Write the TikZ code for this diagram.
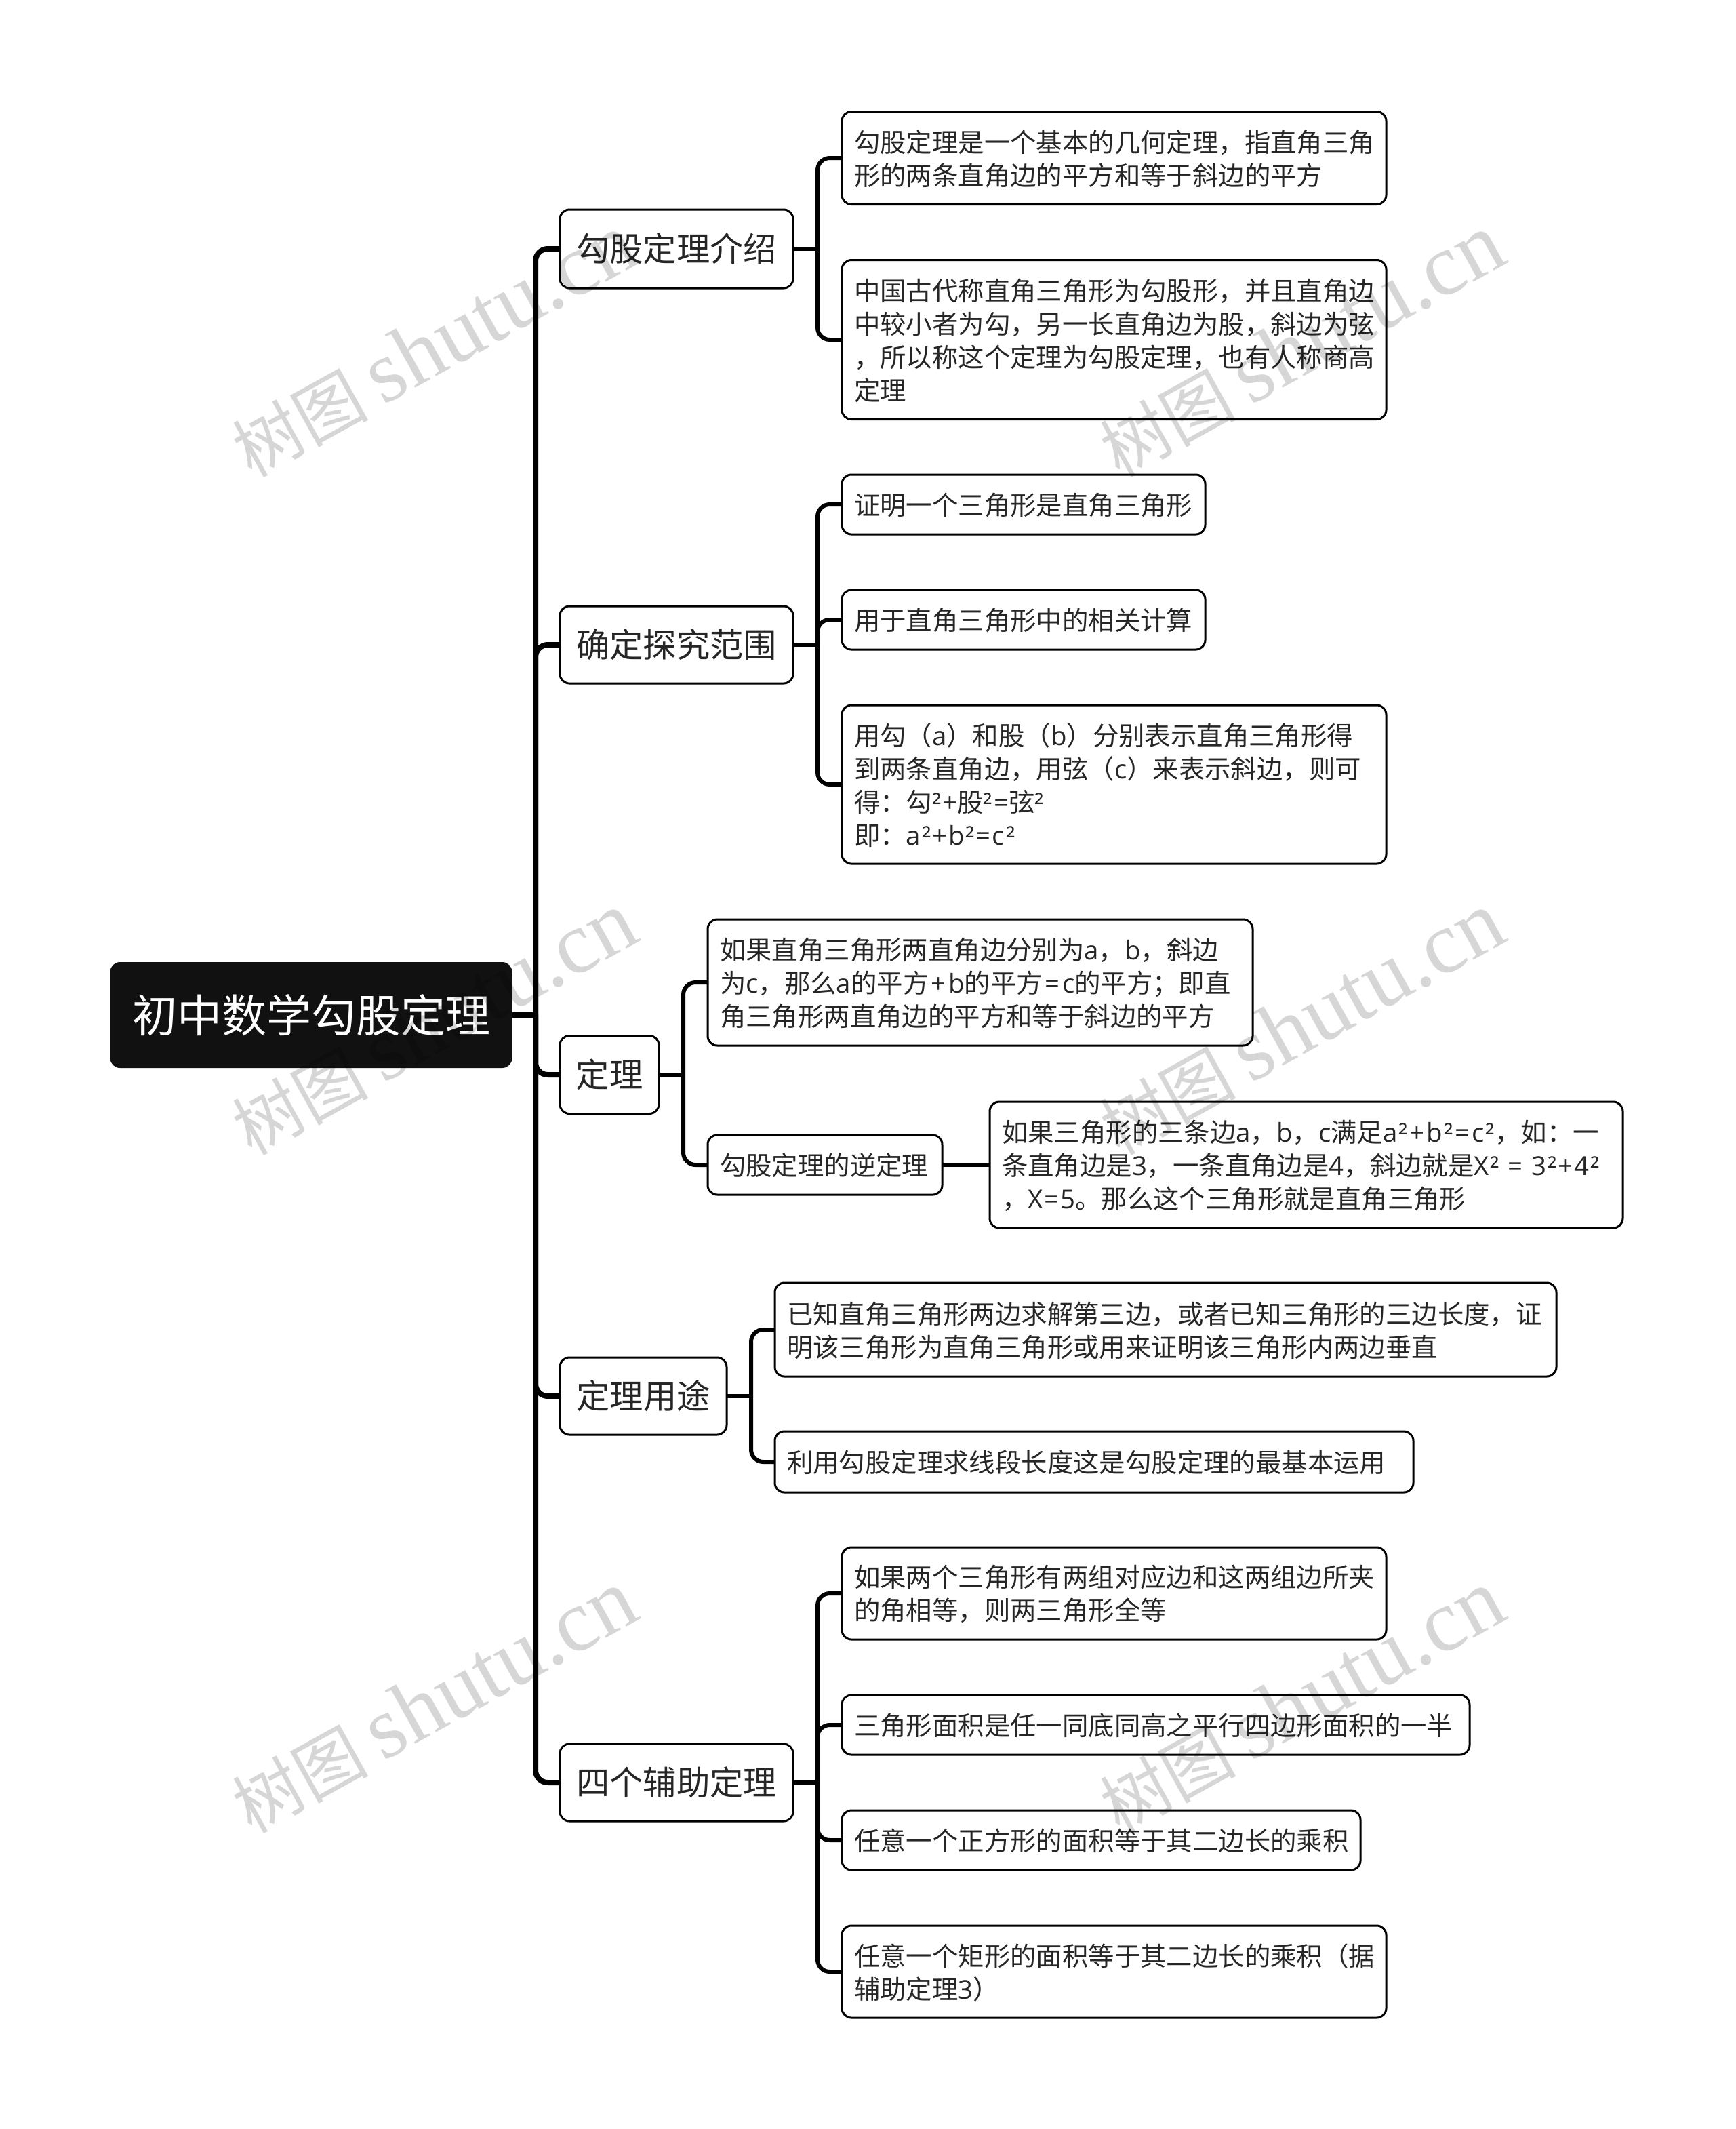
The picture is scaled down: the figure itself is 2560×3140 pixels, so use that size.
\documentclass[tikz,border=0pt]{standalone}
\usepackage{fontspec}
\setmainfont{Noto Sans CJK SC}
\newfontfamily\latfont[LetterSpace=5]{Open Sans}
\newfontfamily\stampfont{Liberation Serif}
\newcommand{\lat}[1]{{\latfont #1}}
\newcommand{\leafend}{\par\vspace{-2pt}}
\definecolor{rootblack}{HTML}{111111}
\definecolor{inktext}{HTML}{262626}

\begin{document}
\begin{tikzpicture}[x=1pt,y=-1pt,
	rootbox/.style={draw=rootblack,fill=rootblack,text=white,rounded corners=14pt,line width=1pt,
		minimum width=592pt,minimum height=155pt,inner sep=0pt,outer sep=0pt,anchor=west,
		font=\fontsize{66}{80}\selectfont},
	branchbox/.style 2 args={draw=black,rounded corners=14pt,line width=3pt,
		minimum width=#1pt,minimum height=#2pt,inner sep=0pt,outer sep=0pt,anchor=west,
		text=inktext,font=\fontsize{49.3}{60}\selectfont},
	leafbox/.style 2 args={draw=black,rounded corners=14pt,line width=3pt,align=left,
		text width=\dimexpr#1pt-36pt\relax,minimum height=#2pt,inner xsep=18pt,inner ysep=0pt,outer sep=0pt,anchor=west,
		text=inktext,font=\fontsize{38.4}{49}\selectfont,execute at end node=\leafend},
	trunk/.style={draw=black,line width=8pt,rounded corners=18pt},
	twig/.style={draw=black,line width=6pt,rounded corners=18pt},
	stamp/.style={text=black,opacity=0.16,rotate=29,inner sep=0pt,font=\fontsize{100}{125}\selectfont}]
	\useasboundingbox (0,0) rectangle (2560,3140);
	\fill[white] (0,0) rectangle (2560,3140);

	\node[rootbox] (root) at (163,1497) {初中数学勾股定理};

	\node[branchbox={344}{116}] (b1) at (826,367) {勾股定理介绍};
	\node[branchbox={344}{114}] (b2) at (826,951) {确定探究范围};
	\node[branchbox={146}{115}] (b3) at (826,1585) {定理};
	\node[branchbox={246}{114}] (b4) at (826,2059) {定理用途};
	\node[branchbox={344}{114}] (b5) at (826,2629) {四个辅助定理};

	\node[leafbox={803}{137}] (l11) at (1242,233) {勾股定理是一个基本的几何定理，指直角三角\\形的两条直角边的平方和等于斜边的平方};
	\node[leafbox={803}{235}] (l12) at (1242,501) {中国古代称直角三角形为勾股形，并且直角边\\中较小者为勾，另一长直角边为股，斜边为弦\\，所以称这个定理为勾股定理，也有人称商高\\定理};

	\node[leafbox={536}{88}] (l21) at (1242,744) {证明一个三角形是直角三角形};
	\node[leafbox={536}{88}] (l22) at (1242,914) {用于直角三角形中的相关计算};
	\node[leafbox={803}{234}] (l23) at (1242,1157) {用勾（\lat{a}）和股（\lat{b}）分别表示直角三角形得\\到两条直角边，用弦（\lat{c}）来表示斜边，则可\\得：勾\lat{²+}股\lat{²=}弦\lat{²}\\即：\lat{a²+b²=c²}};

	\node[leafbox={804}{186}] (l31) at (1044,1449) {如果直角三角形两直角边分别为\lat{a}，\lat{b}，斜边\\为\lat{c}，那么\lat{a}的平方\kern3.5pt\lat{+}\kern3.5pt\lat{b}的平方\kern3.5pt\lat{=}\kern3.5pt\lat{c}的平方；即直\\角三角形两直角边的平方和等于斜边的平方};
	\node[leafbox={346}{88}] (l32) at (1044,1718) {勾股定理的逆定理};
	\node[leafbox={934}{186}] (l33) at (1460,1718) {如果三角形的三条边\lat{a}，\lat{b}，\lat{c}满足\lat{a²}\kern3pt\lat{+}\kern3pt\lat{b²}\kern3pt\lat{=}\kern3pt\lat{c²}，如：一\\条直角边是\lat{3}，一条直角边是\lat{4}，斜边就是\lat{X² = 3²+4²}\\，\lat{X=5}。那么这个三角形就是直角三角形};

	\node[leafbox={1153}{138}] (l41) at (1143,1961) {已知直角三角形两边求解第三边，或者已知三角形的三边长度，证\\明该三角形为直角三角形或用来证明该三角形内两边垂直};
	\node[leafbox={942}{90}] (l42) at (1143,2156) {利用勾股定理求线段长度这是勾股定理的最基本运用};

	\node[leafbox={803}{136}] (l51) at (1242,2350) {如果两个三角形有两组对应边和这两组边所夹\\的角相等，则两三角形全等};
	\node[leafbox={926}{88}] (l52) at (1242,2544) {三角形面积是任一同底同高之平行四边形面积的一半};
	\node[leafbox={765}{88}] (l53) at (1242,2714) {任意一个正方形的面积等于其二边长的乘积};
	\node[leafbox={803}{136}] (l54) at (1242,2908) {任意一个矩形的面积等于其二边长的乘积（据\\辅助定理\lat{3}）};

	\coordinate (rootfork) at ([xshift=35pt]root.east);
	\foreach \from in {b1,b2,b3,b4,b5}
		\coordinate (\from fork) at ([xshift=36pt]\from.east);

	\draw[trunk] (root.east) -- (rootfork);
	\foreach \kid in {b1,b2,b3,b4,b5}
		\draw[trunk] (rootfork) |- (\kid.west);

	\foreach \from in {b1,b2,b3,b4,b5}
		\draw[twig] (\from.east) -- (\from fork);
	\foreach \from/\kid in {b1/l11,b1/l12,b2/l21,b2/l22,b2/l23,b3/l31,b3/l32,b4/l41,b4/l42,b5/l51,b5/l52,b5/l53,b5/l54}
		\draw[twig] (\from fork) |- (\kid.west);
	\draw[twig] (l32.east) -- (l33.west);

	\foreach \wx in {640,1920}
		\foreach \wy in {510,1510,2510}
			\node[stamp] (wm\wx\wy) at (\wx,\wy) {树图\hspace{22pt}{\stampfont\fontsize{130}{125}\selectfont shutu.cn}};
\end{tikzpicture}
\end{document}
